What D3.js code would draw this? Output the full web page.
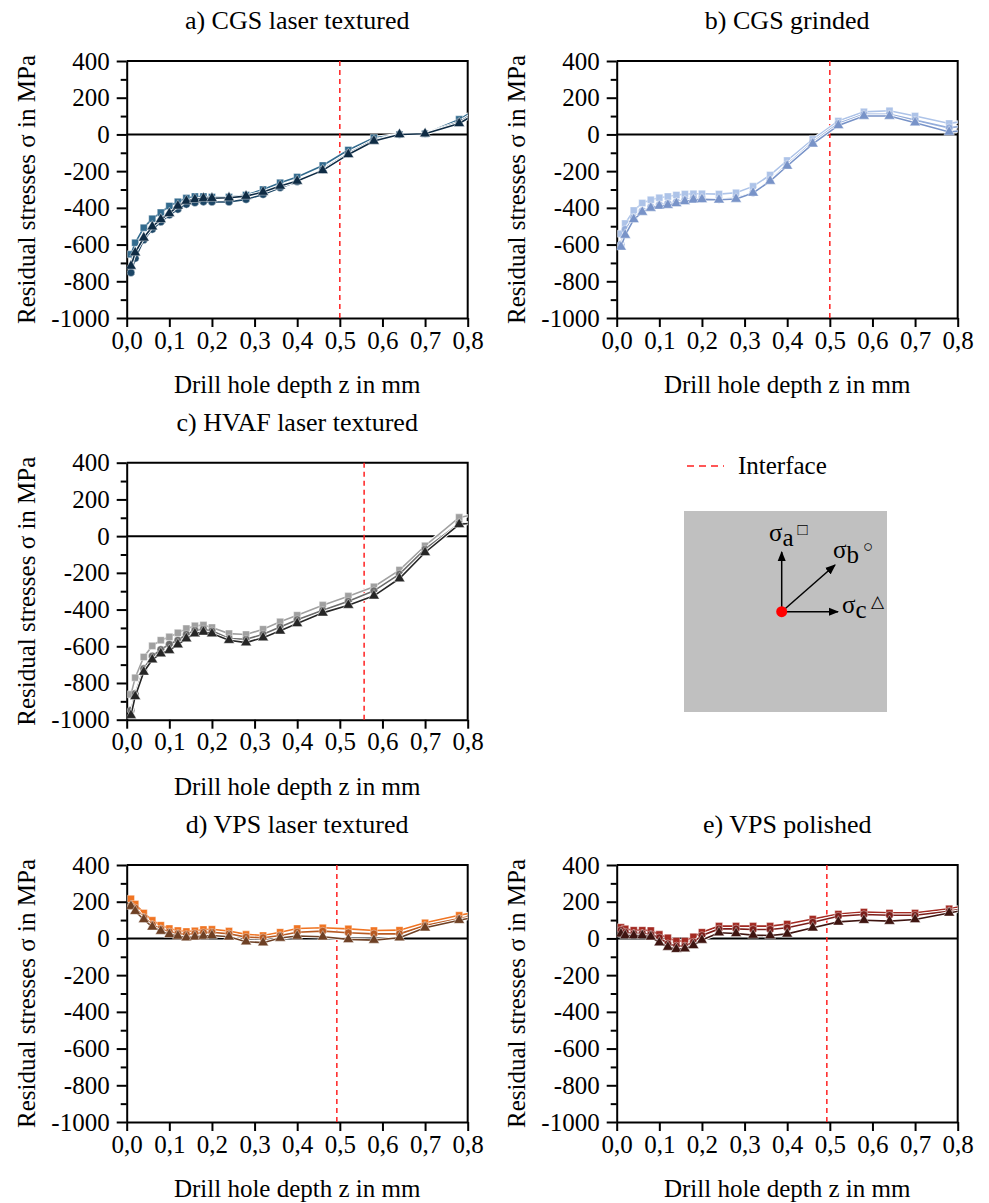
<!DOCTYPE html>
<html>
<head>
<meta charset="utf-8">
<script src="https://cdn.jsdelivr.net/npm/d3@7"></script>
<style>
  body { margin: 0; background: #fff; }
  text { font-family: "Liberation Serif", "Times New Roman", serif; fill: #000; }
</style>
</head>
<body>
<script>
// drill hole depths in mm (last point lies just outside the axis and is clipped)
const depth = [0.01, 0.02, 0.04, 0.06, 0.08, 0.10, 0.12, 0.14, 0.16, 0.18, 0.20,
               0.24, 0.28, 0.32, 0.36, 0.40, 0.46, 0.52, 0.58, 0.64, 0.70, 0.78, 0.82];

// residual stresses in MPa: sigma a (square), sigma b (circle), sigma c (triangle)
const cgsLaserA = [-653, -590, -508, -459, -426, -390, -367, -347, -338, -338, -341,
                   -341, -330, -300, -263, -232, -169, -85, -18, 0, 4, 82, 136];
const cgsLaserB = [-753, -675, -575, -517, -477, -439, -408, -381, -372, -367, -368,
                   -368, -354, -327, -290, -258, -191, -103, -31, 0, 5, 67, 125];
const cgsLaserC = [-717, -644, -563, -503, -463, -430, -390, -363, -354, -348, -348,
                   -345, -336, -314, -281, -254, -196, -109, -36, 0, 4, 60, 114];

const cgsGrindA = [-541, -485, -414, -374, -356, -345, -338, -330, -325, -323, -323,
                   -325, -318, -283, -221, -142, -27, 73, 123, 129, 100, 60, 74];
const cgsGrindB = [-599, -517, -454, -417, -396, -385, -377, -368, -357, -350, -350,
                   -354, -347, -318, -249, -163, -42, 60, 109, 109, 78, 36, 48];
const cgsGrindC = [-613, -548, -463, -423, -401, -390, -385, -376, -365, -356, -354,
                   -356, -352, -319, -254, -172, -51, 49, 100, 100, 64, 13, 23];

const hvafLaserA = [-862, -771, -658, -598, -567, -549, -527, -504, -489, -485, -498,
                    -531, -536, -507, -467, -431, -376, -327, -276, -185, -53, 102, 120];
const hvafLaserB = [-949, -858, -722, -653, -618, -589, -567, -535, -513, -507, -516,
                    -558, -562, -535, -495, -455, -404, -355, -298, -207, -71, 69, 77];
const hvafLaserC = [-976, -873, -740, -673, -640, -622, -591, -558, -531, -522, -531,
                    -567, -580, -553, -516, -476, -418, -376, -325, -231, -89, 64, 74];

const vpsLaserA = [216, 187, 139, 99, 72, 54, 43, 38, 41, 49, 50,
                   40, 22, 16, 34, 54, 58, 52, 43, 45, 85, 126, 144];
const vpsLaserB = [178, 166, 115, 76, 52, 36, 27, 22, 27, 32, 34,
                   25, 7, 4, 16, 34, 40, 31, 25, 25, 70, 108, 126];
const vpsLaserC = [175, 148, 103, 63, 40, 22, 13, 4, 9, 13, 16,
                   9, -18, -23, 2, 13, 9, -5, -9, 4, 58, 99, 117];

const vpsPolA = [61, 52, 45, 45, 43, 22, 4, -14, -14, 9, 34,
                 67, 67, 67, 67, 79, 106, 133, 144, 139, 139, 162, 180];
const vpsPolB = [45, 34, 27, 27, 22, 4, -29, -41, -41, -20, 16,
                 52, 52, 49, 49, 58, 88, 121, 130, 126, 126, 148, 166];
const vpsPolC = [25, 16, 16, 16, 9, -23, -47, -59, -56, -38, -9,
                 31, 27, 18, 16, 25, 58, 90, 99, 94, 103, 139, 157];

// interface depth per panel (mm)
const interfaceDepth = [0.5, 0.5, 0.557, 0.493, 0.493];

const titles = ["a) CGS laser textured", "b) CGS grinded", "c) HVAF laser textured",
                "d) VPS laser textured", "e) VPS polished"];

const yTicks = [-1000, -800, -600, -400, -200, 0, 200, 400];
const xTicks = [0, 0.1, 0.2, 0.3, 0.4, 0.5, 0.6, 0.7, 0.8];

const panels = [
  {title: titles[0], left: 126.7, top: 61,    series: [cgsLaserA, cgsLaserB, cgsLaserC],
   colors: ["#336b8e", "#1c4666", "#0e2b44"], iface: interfaceDepth[0]},
  {title: titles[1], left: 616.7, top: 61,    series: [cgsGrindA, cgsGrindB, cgsGrindC],
   colors: ["#adc3e8", "#93acda", "#7893c8"], iface: interfaceDepth[1]},
  {title: titles[2], left: 126.7, top: 462.7, series: [hvafLaserA, hvafLaserB, hvafLaserC],
   colors: ["#a0a0a0", "#6b6b6b", "#262626"], iface: interfaceDepth[2]},
  {title: titles[3], left: 126.7, top: 865,   series: [vpsLaserA, vpsLaserB, vpsLaserC],
   colors: ["#f07422", "#b85a22", "#6e4024"], iface: interfaceDepth[3]},
  {title: titles[4], left: 616.7, top: 865,   series: [vpsPolA, vpsPolB, vpsPolC],
   colors: ["#a32a22", "#7c1e1a", "#3e1410"], iface: interfaceDepth[4]}
];

const W = 989, H = 1203;
const pw = 341, ph = 257;
const fs = 25;
const serif = '"Liberation Serif", "Times New Roman", serif';

const svg = d3.select("body").append("svg")
  .attr("width", W).attr("height", H);

const symbols = [d3.symbolSquare, d3.symbolCircle, d3.symbolTriangle];
const symSize = [50, 46, 50];
const fmtX = d => d3.format(".1f")(d).replace(".", ",");

panels.forEach((p, pi) => {
  const g = svg.append("g").attr("transform", `translate(${p.left},${p.top})`);

  const x = d3.scaleLinear().domain([0, 0.8]).range([0, pw]);
  const y = d3.scaleLinear().domain([-1000, 400]).range([ph, 0]);

  const clipId = "clip" + pi;
  g.append("clipPath").attr("id", clipId)
    .append("rect").attr("x", 0).attr("y", 0).attr("width", pw).attr("height", ph);

  // minor y ticks
  g.append("g")
    .call(d3.axisLeft(y).tickValues(d3.range(-900, 400, 200)).tickSize(6).tickFormat(""))
    .call(a => a.select(".domain").remove())
    .call(a => a.selectAll("line").attr("stroke-width", 2));

  // major y axis
  g.append("g")
    .call(d3.axisLeft(y).tickValues(yTicks).tickSize(10).tickPadding(7).tickSizeOuter(0)
      .tickFormat(d => String(d)))
    .attr("font-family", serif).attr("font-size", fs)
    .call(a => a.select(".domain").attr("stroke-width", 2))
    .call(a => a.selectAll("line").attr("stroke-width", 2));

  // x axis
  g.append("g").attr("transform", `translate(0,${ph})`)
    .call(d3.axisBottom(x).tickValues(xTicks).tickSize(9).tickPadding(4).tickSizeOuter(0).tickFormat(fmtX))
    .attr("font-family", serif).attr("font-size", fs)
    .call(a => a.select(".domain").attr("stroke-width", 2))
    .call(a => a.selectAll("line").attr("stroke-width", 2));

  // top and right frame
  g.append("path")
    .attr("d", `M0,0H${pw}V${ph}`)
    .attr("fill", "none").attr("stroke", "#000").attr("stroke-width", 2);

  // zero line
  g.append("line")
    .attr("x1", 0).attr("x2", pw).attr("y1", y(0)).attr("y2", y(0))
    .attr("stroke", "#000").attr("stroke-width", 2);

  // interface
  g.append("line")
    .attr("x1", x(p.iface)).attr("x2", x(p.iface)).attr("y1", 0).attr("y2", ph)
    .attr("stroke", "#ff2020").attr("stroke-width", 1.5).attr("stroke-dasharray", "5,4");

  const plot = g.append("g").attr("clip-path", `url(#${clipId})`);
  const line = d3.line().x((d, i) => x(depth[i])).y(d => y(d));

  p.series.forEach((s, si) => {
    plot.append("path")
      .attr("d", line(s))
      .attr("fill", "none").attr("stroke", "#fff").attr("stroke-width", 3.4);
    plot.append("path")
      .attr("d", line(s))
      .attr("fill", "none").attr("stroke", p.colors[si]).attr("stroke-width", 1.6);
    plot.selectAll(null).data(s).join("path")
      .attr("transform", (d, i) => `translate(${x(depth[i])},${y(d)})`)
      .attr("d", d3.symbol().type(symbols[si]).size(symSize[si]))
      .attr("fill", p.colors[si])
      .attr("stroke", "#fff").attr("stroke-width", 0.4);
  });

  // title
  g.append("text")
    .attr("x", pw / 2).attr("y", -32)
    .attr("text-anchor", "middle").attr("font-size", fs + 1)
    .text(p.title);

  // axis titles
  g.append("text")
    .attr("x", pw / 2).attr("y", ph + 75)
    .attr("text-anchor", "middle").attr("font-size", fs)
    .text("Drill hole depth z in mm");

  g.append("text")
    .attr("transform", `translate(-92,${ph / 2}) rotate(-90)`)
    .attr("text-anchor", "middle").attr("font-size", fs)
    .text("Residual stresses σ in MPa");
});

// legend: interface
const lg = svg.append("g");
lg.append("line")
  .attr("x1", 687).attr("x2", 724).attr("y1", 466).attr("y2", 466)
  .attr("stroke", "#ff2020").attr("stroke-width", 1.5).attr("stroke-dasharray", "7,5");
lg.append("text").attr("x", 738).attr("y", 474).attr("font-size", fs).text("Interface");

// stress direction sketch
lg.append("rect").attr("x", 684).attr("y", 511).attr("width", 203).attr("height", 201)
  .attr("fill", "#c0c0c0");

const defs = svg.append("defs");
defs.append("marker").attr("id", "arrow").attr("viewBox", "0 0 10 10")
  .attr("refX", 9).attr("refY", 5).attr("markerWidth", 7).attr("markerHeight", 7)
  .attr("orient", "auto")
  .append("path").attr("d", "M0,1L10,5L0,9Z").attr("fill", "#000");

const ox = 781.7, oy = 611.7;
[[781.7, 552], [835, 565], [838, 611.7]].forEach(([tx, ty]) => {
  lg.append("line").attr("x1", ox).attr("y1", oy).attr("x2", tx).attr("y2", ty)
    .attr("stroke", "#000").attr("stroke-width", 1.5).attr("marker-end", "url(#arrow)");
});
lg.append("circle").attr("cx", ox).attr("cy", oy).attr("r", 5.5).attr("fill", "#ff0000");

function sigmaLabel(xp, yp, sub, mark) {
  const t = lg.append("text").attr("x", xp).attr("y", yp).attr("font-size", fs);
  t.append("tspan").text("σ");
  t.append("tspan").attr("dy", 5).text(sub);
  t.append("tspan").attr("dy", -11).attr("dx", 4).attr("font-size", 17).text(mark);
}
sigmaLabel(769, 541, "a", "□");
sigmaLabel(833, 558, "b", "○");
sigmaLabel(842, 613, "c", "△");
</script>
</body>
</html>
